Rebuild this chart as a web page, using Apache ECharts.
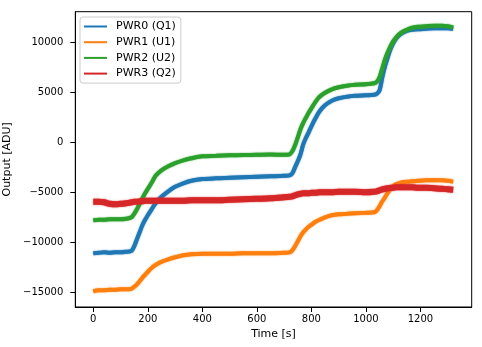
<!DOCTYPE html>
<html>
<head>
<meta charset="utf-8">
<script src="https://cdn.jsdelivr.net/npm/echarts@6/dist/echarts.min.js"></script>
<style>
  html, body { margin: 0; padding: 0; background: #fff; }
  #chart { width: 482px; height: 347px; }
</style>
</head>
<body>
<div id="chart"></div>
<script>
// Sample times [s], shared by all four channels
const times = [0, 20, 40, 60, 80, 100, 120, 140, 150, 160, 170, 180, 190, 200, 215, 230, 250, 275, 300, 330,
  360, 400, 450, 500, 550, 600, 650, 700, 720, 730, 740, 750, 760, 770, 780, 790, 800, 815, 830, 850,
  875, 900, 930, 960, 1000, 1030, 1040, 1050, 1060, 1070, 1080, 1090, 1100, 1110, 1120, 1135, 1150, 1170, 1190, 1220,
  1250, 1280, 1300, 1320];

// Channel outputs [ADU]
const pwr0 = [-11100, -11050, -11000, -11050, -11000, -11000, -10950, -10850, -10400, -9700, -9000, -8300, -7750, -7300, -6650, -6050, -5450, -4900, -4450, -4100,
  -3850, -3680, -3600, -3550, -3500, -3450, -3400, -3350, -3300, -3100, -2500, -1900, -1200, -200, 450, 1000, 1600, 2400, 3100, 3700,
  4150, 4400, 4550, 4650, 4700, 4750, 4850, 5200, 6500, 7600, 8500, 9300, 9900, 10350, 10650, 10950, 11150, 11250, 11300, 11350,
  11400, 11400, 11400, 11350];

const pwr1 = [-14900, -14800, -14800, -14750, -14750, -14700, -14700, -14650, -14450, -14200, -13900, -13550, -13250, -12950, -12550, -12250, -11950, -11700, -11500, -11300,
  -11200, -11150, -11150, -11150, -11100, -11100, -11100, -11050, -11000, -10800, -10400, -9900, -9400, -9000, -8700, -8450, -8250, -7950, -7750, -7500,
  -7300, -7200, -7150, -7100, -7050, -7000, -6800, -6400, -5900, -5500, -5050, -4700, -4400, -4200, -4100, -4000, -3950, -3900, -3850, -3800,
  -3800, -3800, -3850, -3950];

const pwr2 = [-7800, -7750, -7750, -7700, -7700, -7700, -7650, -7500, -7150, -6700, -6150, -5600, -5100, -4650, -4000, -3300, -2800, -2400, -2080, -1800,
  -1600, -1400, -1350, -1300, -1270, -1250, -1230, -1250, -1200, -900, -300, 500, 1300, 1950, 2450, 2950, 3400, 4050, 4550, 4950,
  5300, 5500, 5650, 5750, 5800, 5900, 6050, 6500, 7400, 8300, 9000, 9600, 10100, 10450, 10750, 11050, 11250, 11450, 11550, 11600,
  11650, 11650, 11600, 11500];

const pwr3 = [-5950, -5950, -6000, -6150, -6200, -6150, -6100, -6000, -5950, -5950, -5900, -5900, -5850, -5850, -5850, -5850, -5850, -5850, -5850, -5850,
  -5800, -5800, -5800, -5750, -5700, -5650, -5600, -5500, -5450, -5400, -5300, -5200, -5150, -5100, -5100, -5100, -5050, -5050, -5000, -5000,
  -5000, -4950, -4950, -4950, -5000, -4950, -4900, -4800, -4700, -4650, -4600, -4550, -4550, -4500, -4500, -4500, -4500, -4500, -4550, -4550,
  -4600, -4650, -4700, -4750];

const seriesNames = ['PWR0 (Q1)', 'PWR1 (U1)', 'PWR2 (U2)', 'PWR3 (Q2)'];
const seriesValues = [pwr0, pwr1, pwr2, pwr3];
const colors = ['#1f77b4', '#ff7f0e', '#2ca02c', '#d62728'];

const xTicks = [0, 200, 400, 600, 800, 1000, 1200];
const yTicks = [-15000, -10000, -5000, 0, 5000, 10000];

const FONT = 'DejaVu Sans';
const chart = echarts.init(document.getElementById('chart'), null, { renderer: 'canvas' });

const series = seriesValues.map((vals, i) => ({
  name: seriesNames[i],
  type: 'line',
  data: times.map((t, k) => [t, vals[k]]),
  showSymbol: false,
  symbol: 'none',
  smooth: 0.3,
  lineStyle: {
    color: colors[i],
    width: i === 3 ? 6 : 4,
    shadowColor: colors[i],
    shadowBlur: 1.5
  },
  itemStyle: { color: colors[i] },
  emphasis: { disabled: true },
  z: 2 + i
}));

chart.setOption({
  animation: false,
  backgroundColor: '#fff',
  grid: {
    left: 75.3, right: 10.3, top: 11.7, bottom: 40,
    outerBoundsMode: 'none', containLabel: false,
    show: true, borderColor: '#000', borderWidth: 1, backgroundColor: 'transparent'
  },
  legend: {
    orient: 'vertical',
    left: 80, top: 17,
    data: seriesNames.map((n, i) => ({ name: n, icon: 'rect', itemStyle: { color: colors[i] } })),
    itemWidth: 23, itemHeight: 2, itemGap: 2.7,
    padding: [3, 5, 3, 4],
    backgroundColor: 'rgba(255,255,255,0.8)',
    borderColor: '#cccccc', borderWidth: 1, borderRadius: 3,
    textStyle: { fontFamily: FONT, fontSize: 11, color: '#000', lineHeight: 13, padding: [0, 0, 0, 4] }
  },
  xAxis: {
    type: 'value',
    min: -66, max: 1388,
    name: 'Time [s]', nameLocation: 'middle', nameGap: 21,
    nameTextStyle: { fontFamily: FONT, fontSize: 11, color: '#000' },
    splitLine: { show: false },
    axisLine: { show: true, onZero: false, lineStyle: { color: '#000', width: 1 } },
    axisTick: { show: true, length: 5, customValues: xTicks, lineStyle: { color: '#000', width: 1 } },
    axisLabel: {
      customValues: xTicks, margin: 7, fontFamily: FONT, fontSize: 10, color: '#000',
      formatter: v => String(v)
    }
  },
  yAxis: {
    type: 'value',
    min: -16470, max: 13060,
    name: 'Output [ADU]', nameLocation: 'middle', nameGap: 58, nameRotate: 90,
    nameTextStyle: { fontFamily: FONT, fontSize: 11, color: '#000' },
    splitLine: { show: false },
    axisLine: { show: true, onZero: false, lineStyle: { color: '#000', width: 1 } },
    axisTick: { show: true, length: 5, customValues: yTicks, lineStyle: { color: '#000', width: 1 } },
    axisLabel: {
      customValues: yTicks, margin: 12, fontFamily: FONT, fontSize: 10, color: '#000',
      formatter: v => String(v).replace('-', '\u2212')
    }
  },
  series: series
});
</script>
</body>
</html>
